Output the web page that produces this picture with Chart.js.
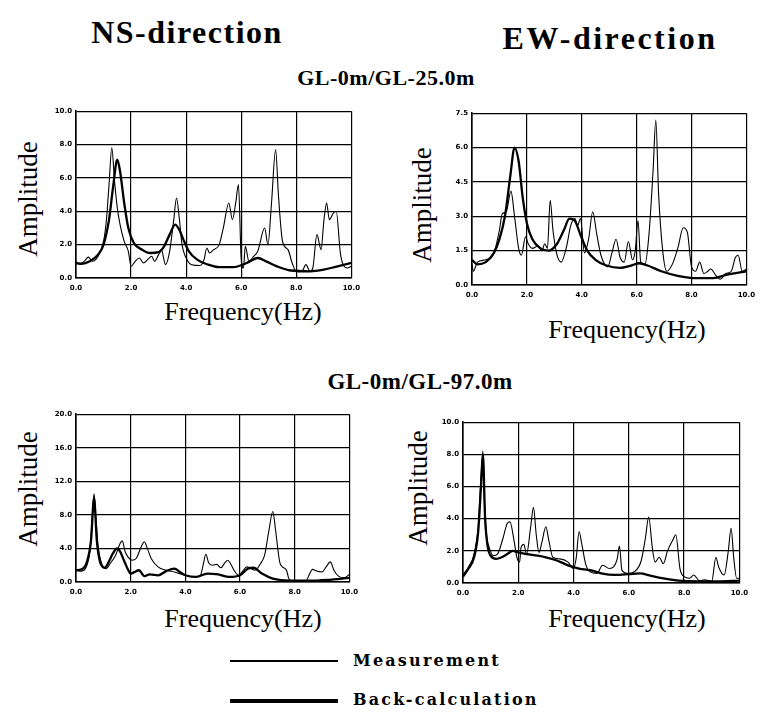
<!DOCTYPE html>
<html>
<head>
<meta charset="utf-8">
<script src="https://cdn.jsdelivr.net/npm/chart.js@4.4.0/dist/chart.umd.min.js"></script>
<style>
  body { margin: 0; width: 766px; height: 713px; background: #fff; position: relative; overflow: hidden; color: #000; font-family: "Liberation Serif", "Times New Roman", serif; }
  .txt { position: absolute; white-space: nowrap; line-height: 1; transform: translate(-50%, -50%); }
  .head { font-size: 32px; font-weight: bold; letter-spacing: 1.5px; }
  .sub { font-size: 22px; font-weight: bold; letter-spacing: 0.5px; }
  .amp { font-size: 27px; transform: translate(-50%, -50%) rotate(-90deg); }
  .freq { font-size: 26px; }
  .panel { position: absolute; }
  .leg-line { position: absolute; left: 230px; width: 108px; background: #000; }
  .leg-txt { position: absolute; left: 353px; font-family: "DejaVu Serif", serif; font-weight: bold; font-size: 16px; letter-spacing: 2.2px; line-height: 1; transform: translateY(-50%); }
</style>
</head>
<body>

<div class="txt head" style="left:187px; top:32px;">NS-direction</div>
<div class="txt head" style="left:610px; top:38px; letter-spacing:2.5px;">EW-direction</div>
<div class="txt sub" style="left:386px; top:78px;">GL-0m/GL-25.0m</div>
<div class="txt sub" style="left:420px; top:381px; font-size:23px;">GL-0m/GL-97.0m</div>

<div class="txt amp" style="left:28px; top:199px;">Amplitude</div>
<div class="txt amp" style="left:422px; top:205px;">Amplitude</div>
<div class="txt amp" style="left:28px; top:489px;">Amplitude</div>
<div class="txt amp" style="left:418px; top:488px;">Amplitude</div>

<div class="txt freq" style="left:243px; top:312px;">Frequency(Hz)</div>
<div class="txt freq" style="left:627px; top:330px;">Frequency(Hz)</div>
<div class="txt freq" style="left:243px; top:619px;">Frequency(Hz)</div>
<div class="txt freq" style="left:627px; top:619px;">Frequency(Hz)</div>

<div class="panel" style="left:42px; top:103px;"><canvas id="ns25" width="324" height="197"></canvas></div>
<div class="panel" style="left:438px; top:105px;"><canvas id="ew25" width="323" height="202"></canvas></div>
<div class="panel" style="left:42px; top:406px;"><canvas id="ns97" width="322" height="198"></canvas></div>
<div class="panel" style="left:429px; top:414px;"><canvas id="ew97" width="325" height="191"></canvas></div>

<div class="leg-line" style="top:660px; height:1.5px;"></div>
<div class="leg-txt" style="top:661px;">Measurement</div>
<div class="leg-line" style="top:699px; height:3.5px;"></div>
<div class="leg-txt" style="top:700px;">Back-calculation</div>

<script>
// tick labels
const freqTicks = [0, 2, 4, 6, 8, 10];
const ampTicksNS25 = [0, 2, 4, 6, 8, 10];
const ampTicksEW25 = [0, 1.5, 3, 4.5, 6, 7.5];
const ampTicksNS97 = [0, 4, 8, 12, 16, 20];
const ampTicksEW97 = [0, 2, 4, 6, 8, 10];

// [frequency Hz, amplitude]
// NS, GL-0m/GL-25.0m
const ns25Meas = [[0,1.0],[0.1,0.85],[0.3,1.0],[0.45,1.25],[0.6,1.0],[0.8,1.3],[1.0,2.2],[1.1,3.4],[1.2,5.6],[1.3,7.8],[1.4,5.8],[1.5,4.2],[1.6,3.2],[1.75,2.2],[1.9,1.6],[2.0,0.7],[2.15,1.0],[2.3,1.2],[2.45,0.9],[2.6,1.1],[2.75,1.3],[2.85,1.0],[3.0,1.4],[3.1,1.7],[3.25,0.8],[3.4,1.6],[3.55,3.5],[3.65,4.8],[3.75,3.6],[3.85,2.0],[4.0,1.2],[4.2,0.8],[4.5,0.75],[4.65,1.1],[4.75,1.8],[4.85,1.5],[5.0,1.7],[5.2,2.0],[5.35,3.0],[5.55,4.5],[5.68,3.5],[5.8,4.5],[5.9,5.6],[6.0,1.1],[6.08,0.6],[6.15,1.9],[6.28,1.0],[6.45,1.3],[6.6,1.6],[6.85,3.0],[6.97,2.0],[7.1,4.5],[7.25,7.7],[7.35,5.0],[7.5,2.2],[7.7,1.7],[7.85,0.9],[8.0,0.4],[8.2,0.4],[8.35,0.8],[8.5,0.4],[8.6,0.6],[8.75,2.6],[8.9,1.7],[9.0,3.4],[9.1,4.5],[9.2,3.5],[9.35,3.9],[9.45,4.0],[9.6,1.5],[9.7,0.8],[9.85,0.6],[10,0.7]];
const ns25Back = [[0,0.9],[0.2,0.85],[0.5,1.0],[0.8,1.4],[1.0,2.0],[1.2,3.5],[1.35,5.5],[1.5,7.1],[1.6,6.4],[1.75,4.5],[1.9,3.0],[2.1,2.1],[2.4,1.7],[2.7,1.5],[3.0,1.55],[3.2,1.9],[3.4,2.6],[3.6,3.2],[3.75,2.9],[3.9,2.3],[4.1,1.6],[4.4,1.1],[4.8,0.8],[5.2,0.65],[5.7,0.65],[6.2,0.9],[6.6,1.2],[6.9,1.0],[7.3,0.7],[7.8,0.45],[8.5,0.4],[9.0,0.5],[9.5,0.7],[10,0.9]];

// EW, GL-0m/GL-25.0m
const ew25Meas = [[0,0.9],[0.05,0.6],[0.2,1.0],[0.5,1.1],[0.8,1.4],[1.0,2.4],[1.1,3.1],[1.25,3.2],[1.42,4.1],[1.55,3.0],[1.7,1.6],[1.8,1.3],[1.95,2.1],[2.05,1.8],[2.2,1.6],[2.4,1.7],[2.55,1.5],[2.65,1.8],[2.75,1.6],[2.85,3.7],[2.95,2.4],[3.1,1.3],[3.25,1.0],[3.45,1.7],[3.6,2.6],[3.75,2.9],[3.85,2.6],[3.95,2.9],[4.1,1.4],[4.25,2.0],[4.4,3.2],[4.55,2.2],[4.7,1.3],[4.95,0.8],[5.1,1.4],[5.25,2.0],[5.4,1.2],[5.55,1.0],[5.7,1.9],[5.85,1.1],[5.95,1.5],[6.05,2.8],[6.15,1.0],[6.3,0.9],[6.45,2.2],[6.6,5.0],[6.7,7.2],[6.8,4.0],[6.95,1.5],[7.1,0.6],[7.3,0.9],[7.5,1.6],[7.7,2.5],[7.85,2.3],[8.0,0.8],[8.15,0.6],[8.3,1.0],[8.45,0.5],[8.6,0.6],[8.7,0.7],[8.9,0.4],[9.05,0.25],[9.25,0.5],[9.45,0.6],[9.6,1.2],[9.7,1.3],[9.85,0.6],[10,0.7]];
const ew25Back = [[0,1.1],[0.2,0.9],[0.5,1.0],[0.8,1.4],[1.0,2.0],[1.2,3.0],[1.4,4.8],[1.55,6.0],[1.7,5.4],[1.85,3.8],[2.0,2.7],[2.2,2.0],[2.5,1.6],[2.8,1.5],[3.1,1.8],[3.35,2.4],[3.55,2.9],[3.75,2.8],[3.95,2.2],[4.2,1.5],[4.5,1.1],[4.9,0.85],[5.4,0.75],[5.8,0.85],[6.1,0.95],[6.4,0.85],[6.9,0.6],[7.5,0.4],[8.2,0.3],[8.8,0.3],[9.3,0.45],[10,0.6]];

// NS, GL-0m/GL-97.0m
const ns97Meas = [[0,1.4],[0.2,1.3],[0.4,2.0],[0.52,4.0],[0.6,8.0],[0.66,10.5],[0.72,8.2],[0.8,4.5],[0.9,2.6],[1.0,1.8],[1.1,1.6],[1.25,2.2],[1.45,3.2],[1.6,4.5],[1.69,4.9],[1.8,3.6],[1.9,3.0],[2.05,2.6],[2.2,2.8],[2.4,4.3],[2.5,4.8],[2.6,4.1],[2.75,2.8],[3.0,1.8],[3.3,1.4],[3.6,1.2],[4.0,0.8],[4.3,0.6],[4.55,0.8],[4.65,2.0],[4.75,3.3],[4.85,2.3],[5.0,2.0],[5.15,2.1],[5.3,1.7],[5.45,2.3],[5.55,2.6],[5.65,2.2],[5.8,1.3],[5.95,0.8],[6.1,1.3],[6.25,1.8],[6.4,1.6],[6.55,1.4],[6.75,2.2],[6.9,3.2],[7.05,6.0],[7.2,8.4],[7.3,6.2],[7.45,2.4],[7.55,1.8],[7.7,1.4],[7.8,0.3],[8.0,0.1],[8.4,0.1],[8.55,1.0],[8.65,1.5],[8.8,1.3],[9.0,1.2],[9.15,1.8],[9.3,2.4],[9.45,1.3],[9.6,0.7],[9.8,0.5],[10,0.9]];
const ns97Back = [[0,1.4],[0.2,1.5],[0.4,2.4],[0.55,5.0],[0.66,10.0],[0.76,5.0],[0.88,2.4],[1.05,1.7],[1.2,2.4],[1.35,3.4],[1.5,4.0],[1.6,3.7],[1.75,2.6],[1.9,1.5],[2.0,1.0],[2.15,1.2],[2.3,1.4],[2.5,0.7],[2.7,0.9],[3.0,0.8],[3.3,1.3],[3.6,1.6],[3.8,1.2],[4.0,0.8],[4.4,0.6],[4.8,1.0],[5.2,0.9],[5.6,0.6],[6.0,0.8],[6.3,1.6],[6.5,1.7],[6.8,1.0],[7.2,0.4],[7.8,0.15],[8.5,0.15],[9.2,0.25],[10,0.5]];

// EW, GL-0m/GL-97.0m
const ew97Meas = [[0,0.5],[0.2,1.0],[0.4,1.8],[0.55,3.5],[0.65,6.5],[0.72,8.2],[0.78,5.0],[0.85,3.0],[0.95,2.2],[1.1,1.7],[1.25,1.8],[1.45,2.8],[1.6,3.7],[1.7,3.8],[1.85,2.6],[1.95,1.6],[2.05,1.3],[2.1,2.2],[2.2,2.4],[2.3,1.8],[2.45,3.5],[2.55,4.7],[2.65,3.0],[2.75,1.9],[2.85,2.5],[3.0,3.5],[3.1,2.7],[3.25,1.6],[3.5,1.5],[3.8,1.3],[4.0,0.9],[4.1,1.6],[4.2,3.2],[4.3,2.4],[4.45,1.1],[4.6,0.7],[4.85,0.6],[5.05,1.1],[5.3,0.9],[5.45,1.0],[5.58,1.5],[5.66,2.3],[5.75,0.8],[5.95,0.6],[6.2,0.7],[6.45,1.4],[6.6,2.8],[6.72,4.1],[6.85,2.2],[6.95,1.3],[7.1,1.6],[7.25,1.2],[7.4,2.0],[7.6,2.7],[7.7,3.0],[7.85,0.9],[8.0,0.4],[8.2,0.3],[8.35,0.5],[8.55,0.15],[8.75,0.2],[9.0,0.1],[9.15,1.6],[9.25,1.0],[9.45,0.5],[9.6,2.0],[9.7,3.4],[9.8,1.5],[9.9,0.3],[10,0.3]];
const ew97Back = [[0,0.4],[0.2,0.9],[0.4,1.6],[0.55,3.2],[0.65,6.0],[0.72,8.0],[0.8,4.0],[0.9,2.2],[1.0,1.7],[1.2,1.5],[1.4,1.6],[1.6,1.8],[1.8,2.0],[2.0,1.9],[2.3,1.8],[2.7,1.7],[3.0,1.6],[3.4,1.4],[3.8,1.1],[4.2,0.9],[4.6,0.8],[5.0,0.6],[5.5,0.5],[6.0,0.55],[6.4,0.6],[6.8,0.45],[7.2,0.3],[7.8,0.15],[8.5,0.1],[9.2,0.1],[10,0.15]];

const tickFont = { family: "DejaVu Sans", size: 7, weight: "bold" };

const toPoints = (arr) => arr.map((p) => ({ x: p[0], y: p[1] }));

function makePanel(id, meas, back, ampTicks) {
  new Chart(document.getElementById(id), {
    type: "line",
    data: {
      datasets: [
        { label: "Measurement", data: toPoints(meas), borderColor: "#000", borderWidth: 1.1, pointRadius: 0, cubicInterpolationMode: "monotone" },
        { label: "Back-calculation", data: toPoints(back), borderColor: "#000", borderWidth: 2.3, pointRadius: 0, cubicInterpolationMode: "monotone" },
      ],
    },
    options: {
      responsive: false,
      animation: false,
      events: [],
      layout: { padding: { top: 8, right: 14, left: 0, bottom: 0 } },
      plugins: { legend: { display: false }, tooltip: { enabled: false } },
      scales: {
        x: {
          type: "linear",
          min: freqTicks[0],
          max: freqTicks[freqTicks.length - 1],
          afterBuildTicks: (s) => { s.ticks = freqTicks.map((v) => ({ value: v })); },
          afterFit: (s) => { s.height = 22; },
          ticks: { callback: (v) => v.toFixed(1), font: tickFont, color: "#000", padding: 6, maxRotation: 0, autoSkip: false },
          grid: { color: "#000", lineWidth: 1.2, drawTicks: false },
          border: { color: "#000", width: 1.6 },
        },
        y: {
          min: ampTicks[0],
          max: ampTicks[ampTicks.length - 1],
          afterBuildTicks: (s) => { s.ticks = ampTicks.map((v) => ({ value: v })); },
          afterFit: (s) => { s.width = 34; },
          ticks: { callback: (v) => v.toFixed(1), font: tickFont, color: "#000", padding: 4, autoSkip: false },
          grid: { color: "#000", lineWidth: 1.2, drawTicks: false },
          border: { color: "#000", width: 1.6 },
        },
      },
    },
  });
}

makePanel("ns25", ns25Meas, ns25Back, ampTicksNS25);
makePanel("ew25", ew25Meas, ew25Back, ampTicksEW25);
makePanel("ns97", ns97Meas, ns97Back, ampTicksNS97);
makePanel("ew97", ew97Meas, ew97Back, ampTicksEW97);
</script>
</body>
</html>
